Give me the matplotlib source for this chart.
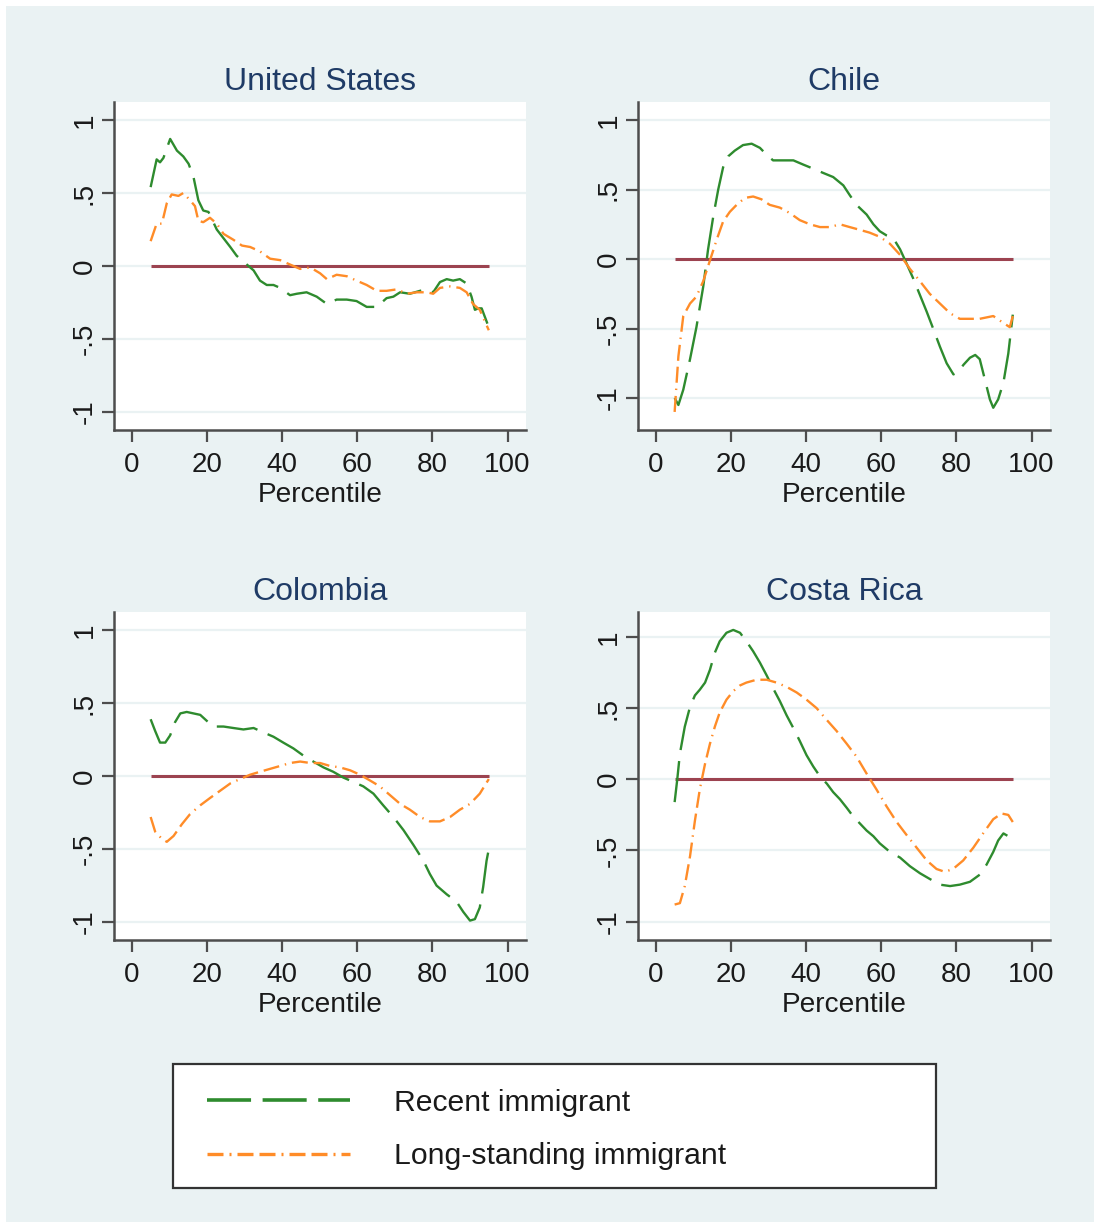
import matplotlib
matplotlib.use("Agg")
import matplotlib.pyplot as plt
from matplotlib.lines import Line2D
from matplotlib.patches import Rectangle

plt.rcParams['font.family'] = ['Liberation Sans', 'DejaVu Sans']

countries = ['United States', 'Chile', 'Colombia', 'Costa Rica']
series_labels = ['Recent immigrant', 'Long-standing immigrant']
xticks = [0, 20, 40, 60, 80, 100]
yticks = [-1, -0.5, 0, 0.5, 1]
yticklabels = ['-1', '-.5', '0', '.5', '1']
pct_lo, pct_hi = 5, 95

# United States
us_recent_x = [5, 6.6, 7.5, 8.4, 10.2, 12, 13.7, 15.1, 16.4, 17.7, 19, 20.4, 22.6, 24.4, 26.2,
               27.9, 30.6, 32.4, 34.1, 35.9, 37.7, 39.5, 42.1, 43.9, 46.5, 49.2, 51.9, 54.5, 57.2, 59.8,
               62.5, 65.2, 67.8, 69.6, 71.4, 74, 76.7, 78.5, 80.2, 82, 83.8, 85.5, 87.3, 89.1, 90.4,
               91.3, 92.2, 93.1, 95]
us_recent_y = [0.54, 0.73, 0.71, 0.74, 0.87, 0.79, 0.75, 0.70, 0.61, 0.45, 0.38, 0.37, 0.25, 0.19, 0.13,
               0.07, 0.01, -0.03, -0.10, -0.13, -0.13, -0.15, -0.20, -0.19, -0.18, -0.21, -0.26, -0.23, -0.23, -0.24,
               -0.28, -0.28, -0.22, -0.21, -0.18, -0.19, -0.17, -0.16, -0.18, -0.11, -0.09, -0.10, -0.09, -0.12, -0.21,
               -0.30, -0.29, -0.29, -0.42]
us_long_x = [5, 6.6, 8, 9.3, 10.6, 12.4, 13.7, 15.5, 16.8, 17.7, 19, 20.8, 22.6, 24.4, 27,
             29.3, 31.5, 34.1, 36.8, 39.5, 42.1, 44.8, 47.5, 50.1, 51.9, 54.5, 57.2, 59.8, 62.5, 65.2,
             67.8, 70.5, 73.2, 75.8, 78.5, 80.2, 82, 84.7, 87.3, 89.1, 90.8, 92.6, 95]
us_long_y = [0.17, 0.29, 0.29, 0.43, 0.49, 0.48, 0.50, 0.45, 0.41, 0.31, 0.30, 0.33, 0.29, 0.22, 0.18,
             0.14, 0.13, 0.10, 0.05, 0.04, 0.01, -0.02, -0.01, -0.05, -0.09, -0.06, -0.07, -0.10, -0.13, -0.17,
             -0.17, -0.16, -0.19, -0.18, -0.18, -0.19, -0.15, -0.14, -0.15, -0.18, -0.26, -0.30, -0.44]

# Chile
cl_recent_x = [5, 6, 7.3, 9.1, 10.8, 12.6, 13.9, 15.3, 16.6, 17.9, 19.3, 21, 23.2, 25.5, 27.7,
               29.5, 31.2, 33.9, 36.6, 39.2, 41.9, 44.5, 47.2, 49.9, 51.6, 53.4, 56.1, 57.9, 59.6, 61.4,
               63.2, 65, 66.7, 68.5, 70.3, 72.1, 73.8, 75.6, 77.4, 79.2, 80.5, 81.9, 83.6, 85, 86.2,
               87.6, 88.9, 89.8, 91.1, 92.5, 93.8, 95]
cl_recent_y = [-1.0, -1.05, -0.94, -0.72, -0.49, -0.20, 0.07, 0.31, 0.50, 0.66, 0.74, 0.78, 0.82, 0.83, 0.80,
               0.75, 0.71, 0.71, 0.71, 0.68, 0.65, 0.62, 0.59, 0.53, 0.46, 0.39, 0.32, 0.25, 0.20, 0.17,
               0.15, 0.07, -0.03, -0.14, -0.26, -0.38, -0.50, -0.63, -0.75, -0.83, -0.81, -0.76, -0.71, -0.69, -0.72,
               -0.87, -1.01, -1.07, -1.01, -0.89, -0.68, -0.40]
cl_long_x = [5, 6, 7.3, 9.1, 10.8, 12.6, 14.4, 16.2, 17.9, 19.7, 21.5, 23.7, 25.9, 28.1, 30.3,
             33, 35.7, 38.3, 41, 43.7, 46.3, 49, 51.6, 54.3, 56.9, 59.6, 62.3, 65, 67.6, 70.3,
             72.9, 75.6, 78.3, 80.9, 83.6, 86.2, 89.8, 92.5, 94.2, 95]
cl_long_y = [-1.10, -0.70, -0.41, -0.32, -0.27, -0.16, -0.01, 0.14, 0.27, 0.34, 0.39, 0.44, 0.45, 0.43, 0.39,
             0.37, 0.33, 0.28, 0.25, 0.23, 0.23, 0.25, 0.23, 0.21, 0.19, 0.16, 0.11, 0.03, -0.07, -0.16,
             -0.25, -0.32, -0.39, -0.43, -0.43, -0.43, -0.41, -0.46, -0.49, -0.41]

# Colombia
co_recent_x = [5, 6.2, 7.5, 8.9, 10.2, 11.5, 12.9, 14.6, 16.4, 18.2, 19.9, 21.7, 24.4, 27, 29.7,
               32.4, 35, 37.7, 40.3, 43, 45.7, 48.3, 51, 53.6, 56.3, 59, 61.6, 64.3, 66.9, 69.6,
               72.3, 74.9, 77.6, 79.3, 81.1, 83.8, 86.4, 88.2, 90, 91.3, 92.6, 93.5, 94.4, 95]
co_recent_y = [0.39, 0.31, 0.23, 0.23, 0.28, 0.37, 0.43, 0.44, 0.43, 0.42, 0.38, 0.34, 0.34, 0.33, 0.32,
               0.33, 0.30, 0.27, 0.23, 0.19, 0.14, 0.10, 0.06, 0.03, -0.01, -0.04, -0.07, -0.12, -0.20, -0.28,
               -0.37, -0.47, -0.58, -0.67, -0.75, -0.81, -0.86, -0.93, -0.99, -0.98, -0.90, -0.76, -0.58, -0.50]
co_long_x = [5, 6.2, 8, 9.3, 11.1, 13.3, 15.5, 18.2, 20.8, 23.5, 26.2, 28.8, 31.5, 34.1, 36.8,
             39.5, 42.1, 44.8, 47.5, 50.1, 52.7, 55.4, 58.1, 60.7, 63.4, 66, 68.7, 71.4, 74, 76.7,
             79.3, 82, 84.7, 87.3, 90, 92.6, 95]
co_long_y = [-0.28, -0.38, -0.43, -0.45, -0.41, -0.33, -0.26, -0.20, -0.15, -0.10, -0.05, -0.02, 0.01, 0.03, 0.05,
             0.07, 0.09, 0.10, 0.09, 0.09, 0.07, 0.06, 0.04, 0.01, -0.03, -0.07, -0.13, -0.19, -0.23, -0.28,
             -0.31, -0.31, -0.28, -0.23, -0.19, -0.12, -0.02]

# Costa Rica
cr_recent_x = [5, 5.7, 6.4, 7.7, 9.1, 10.4, 11.7, 13.1, 14.4, 15.7, 17, 18.8, 20.6, 22.4, 24.1,
               25.9, 27.7, 29.5, 31.2, 33, 34.8, 36.6, 38.3, 40.1, 41.9, 43.7, 45.5, 47.2, 49, 50.8,
               52.5, 54.3, 56.1, 57.9, 59.6, 62.3, 65, 67.6, 70.3, 72.9, 75.6, 78.3, 80.9, 83.6, 86.2,
               88, 89.8, 91.1, 92.5, 93.8, 95]
cr_recent_y = [-0.16, 0.0, 0.18, 0.37, 0.51, 0.59, 0.63, 0.68, 0.77, 0.89, 0.97, 1.03, 1.05, 1.03, 0.97,
               0.90, 0.82, 0.73, 0.64, 0.55, 0.45, 0.36, 0.27, 0.17, 0.09, 0.02, -0.03, -0.09, -0.14, -0.20,
               -0.26, -0.31, -0.36, -0.40, -0.45, -0.51, -0.55, -0.61, -0.66, -0.70, -0.74, -0.75, -0.74, -0.72, -0.67,
               -0.60, -0.51, -0.43, -0.38, -0.40, -0.41]
cr_long_x = [5, 6.4, 7.7, 9.1, 10.4, 11.7, 13.1, 14.4, 15.7, 17, 18.8, 20.6, 22.4, 24.1, 26.8,
             29.5, 32.1, 34.8, 37.5, 40.1, 42.8, 45.4, 48.1, 50.8, 53.4, 56.1, 58.7, 61.4, 64.1, 66.7,
             69.4, 72.1, 74.7, 76.9, 79.1, 81.8, 84.5, 87.1, 89.8, 92, 93.8, 95]
cr_long_y = [-0.88, -0.87, -0.75, -0.54, -0.29, -0.07, 0.11, 0.25, 0.37, 0.47, 0.56, 0.62, 0.66, 0.68, 0.70,
             0.70, 0.68, 0.65, 0.61, 0.56, 0.50, 0.42, 0.34, 0.25, 0.16, 0.04, -0.07, -0.19, -0.30, -0.39,
             -0.48, -0.57, -0.63, -0.65, -0.63, -0.57, -0.48, -0.38, -0.28, -0.24, -0.25, -0.30]

recent = [(us_recent_x, us_recent_y), (cl_recent_x, cl_recent_y),
          (co_recent_x, co_recent_y), (cr_recent_x, cr_recent_y)]
longst = [(us_long_x, us_long_y), (cl_long_x, cl_long_y),
          (co_long_x, co_long_y), (cr_long_x, cr_long_y)]

BG = '#eaf2f3'
GREEN = '#2e8b2e'
ORANGE = '#ff8c28'
MAROON = '#9c4350'
TITLE = '#1f3b66'
AXCOL = '#4d4d4d'
TXT = '#1a1a1a'

# long dash for recent, dash-dash-dot for long-standing (in linewidth units)
LW = 1.7
DASH_RECENT = (0, (17.5, 4.7))
DASH_LONG = (0, (6.8, 2.5, 0.6, 2.5, 6.8, 2.5))

W, H = 1094, 1222
fig = plt.figure(figsize=(W / 100, H / 100), dpi=100, facecolor='white')
fig.patches.append(Rectangle((6 / W, 0), 1, 1 - 6 / H, transform=fig.transFigure,
                             facecolor=BG, edgecolor='none', zorder=-10))

# panel boxes in pixels: left, top, right, bottom
boxes = [(114, 102, 526, 430), (638, 102, 1050, 430),
         (114, 612, 526, 940), (638, 612, 1050, 940)]
ylims = [(-1.123, 1.123), (-1.23, 1.13), (-1.123, 1.125), (-1.129, 1.176)]

for i, name in enumerate(countries):
    l, t, r, b = boxes[i]
    ax = fig.add_axes([l / W, 1 - b / H, (r - l) / W, (b - t) / H])
    ax.set_facecolor('white')
    ax.set_xlim(-4.75, 104.9)
    ax.set_ylim(*ylims[i])
    for s in ['top', 'right']:
        ax.spines[s].set_visible(False)
    for s in ['left', 'bottom']:
        ax.spines[s].set_color(AXCOL)
        ax.spines[s].set_linewidth(1.8)
    ax.set_xticks(xticks)
    ax.set_yticks(yticks)
    ax.set_yticklabels(yticklabels)
    ax.tick_params(length=8.6, width=1.6, color=AXCOL, labelsize=20, labelcolor=TXT)
    ax.tick_params(axis='x', pad=7.5)
    ax.tick_params(axis='y', pad=3, labelrotation=90)
    for lab in ax.get_yticklabels():
        lab.set_va('center')
    ax.yaxis.grid(True, color=BG, linewidth=1.6)
    ax.set_axisbelow(True)

    ax.hlines(0, pct_lo, pct_hi, color=MAROON, linewidth=2.2, zorder=2)
    rx, ry = recent[i]
    lx, ly = longst[i]
    ax.plot(rx, ry, color=GREEN, linewidth=LW, linestyle=DASH_RECENT, zorder=3)
    ax.plot(lx, ly, color=ORANGE, linewidth=LW, linestyle=DASH_LONG, zorder=3)

    ax.set_title(name, fontsize=23, color=TITLE, pad=8.5)
    ax.set_xlabel('Percentile', fontsize=20.2, color=TXT, labelpad=2.5)

# legend box
fig.patches.append(Rectangle((173 / W, 1 - 1188 / H), (936 - 173) / W, (1188 - 1064) / H,
                             transform=fig.transFigure, facecolor='white',
                             edgecolor='#333333', linewidth=1.6, zorder=1))
handles = [Line2D([], [], color=GREEN, linewidth=2.6, linestyle=(0, (12.2, 3.2))),
           Line2D([], [], color=ORANGE, linewidth=2.4, linestyle=(0, (4.8, 1.8, 0.6, 1.8, 4.8, 1.8)))]
leg = fig.legend(handles, series_labels, loc='center left',
                 bbox_to_anchor=(207 / W, 1 - 1129.5 / H), frameon=False,
                 fontsize=21.7, handlelength=4.75, handletextpad=1.45,
                 labelspacing=0.84, borderpad=0, borderaxespad=0)
leg.set_zorder(5)
for txt in leg.get_texts():
    txt.set_color(TXT)

fig.savefig('out.png', dpi=100, facecolor=fig.get_facecolor())
